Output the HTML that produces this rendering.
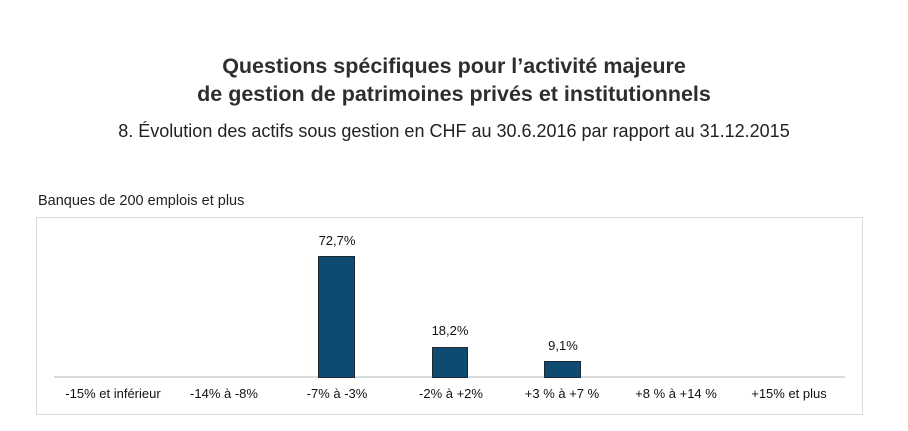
<!DOCTYPE html>
<html><head><meta charset="utf-8"><style>
body{margin:0;width:908px;height:431px;background:#fff;position:relative;font-family:"Liberation Sans",sans-serif;color:#222;overflow:hidden}
.t{position:absolute;left:0;width:908px;text-align:center;white-space:nowrap}
.a{position:absolute;white-space:nowrap}
.lab{position:absolute;top:386px;font-size:13px;color:#111;transform:translateX(-50%);white-space:nowrap}
.val{position:absolute;font-size:13px;color:#111;transform:translateX(-50%)}
.bar{position:absolute;background:#0f4a70;border:1px solid #1d2a35;box-sizing:border-box}
</style></head><body>
<div class="t" style="top:54px;font-size:21.5px;font-weight:bold;color:#2e2e2e;transform:scaleX(1.0)">Questions spécifiques pour l’activité majeure</div>
<div class="t" style="top:82px;font-size:21.5px;font-weight:bold;color:#2e2e2e">de gestion de patrimoines privés et institutionnels</div>
<div class="t" style="top:121px;font-size:18px;color:#222">8. Évolution des actifs sous gestion en CHF au 30.6.2016 par rapport au 31.12.2015</div>
<div class="a" style="left:38px;top:193px;font-size:14.5px">Banques de 200 emplois et plus</div>
<div style="position:absolute;left:36px;top:217px;width:827px;height:198px;border:1px solid #d8dcdc;box-sizing:border-box"></div>
<div style="position:absolute;left:54px;top:376px;width:791px;height:2px;background:#d8dcdc"></div>
<div class="bar" style="left:318px;width:37px;top:256px;height:122px"></div>
<div class="bar" style="left:432px;width:36px;top:347px;height:31px"></div>
<div class="bar" style="left:544px;width:37px;top:361px;height:17px"></div>
<div class="val" style="left:337px;top:233px">72,7%</div>
<div class="val" style="left:450px;top:323px">18,2%</div>
<div class="val" style="left:563px;top:338px">9,1%</div>
<div class="lab" style="left:113px">-15% et inférieur</div>
<div class="lab" style="left:224px">-14% à -8%</div>
<div class="lab" style="left:337px">-7% à -3%</div>
<div class="lab" style="left:451px">-2% à +2%</div>
<div class="lab" style="left:562px">+3 % à +7 %</div>
<div class="lab" style="left:676px">+8 % à +14 %</div>
<div class="lab" style="left:789px">+15% et plus</div>
</body></html>
